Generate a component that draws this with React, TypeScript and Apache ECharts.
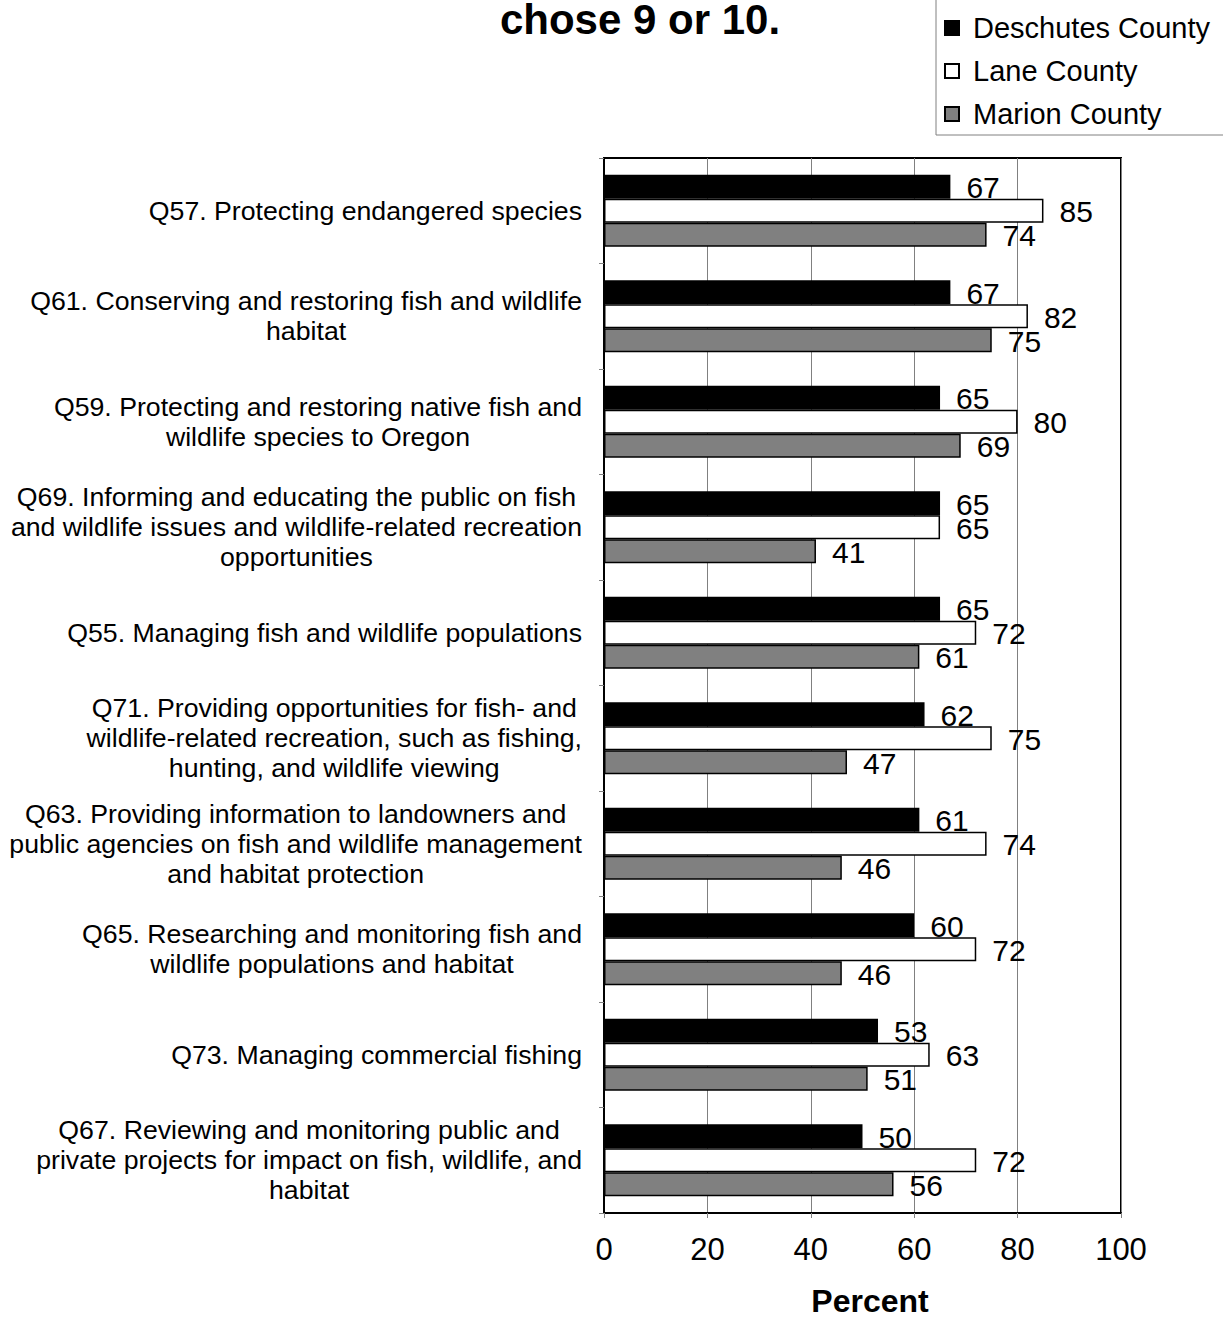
import React, { useEffect, useRef } from "react";
import * as echarts from "echarts";

const categories: string[] = [
  "Q57. Protecting endangered species",
  "Q61. Conserving and restoring fish and wildlife\nhabitat",
  "Q59. Protecting and restoring native fish and\nwildlife species to Oregon",
  "Q69. Informing and educating the public on fish\nand wildlife issues and wildlife-related recreation\nopportunities",
  "Q55. Managing fish and wildlife populations",
  "Q71. Providing opportunities for fish- and\nwildlife-related recreation, such as fishing,\nhunting, and wildlife viewing",
  "Q63. Providing information to landowners and\npublic agencies on fish and wildlife management\nand habitat protection",
  "Q65. Researching and monitoring fish and\nwildlife populations and habitat",
  "Q73. Managing commercial fishing",
  "Q67. Reviewing and monitoring public and\nprivate projects for impact on fish, wildlife, and\nhabitat",
];

const deschutes: number[] = [67, 67, 65, 65, 65, 62, 61, 60, 53, 50];
const lane: number[] = [85, 82, 80, 65, 72, 75, 74, 72, 63, 72];
const marion: number[] = [74, 75, 69, 41, 61, 47, 46, 46, 51, 56];

const seriesNames: string[] = ["Deschutes County", "Lane County", "Marion County"];
const titleText = "chose 9 or 10.";
const axisName = "Percent";

const FONT = "'Liberation Sans', Arial, Helvetica, sans-serif";

export default function App() {
  const ref = useRef<HTMLDivElement>(null);

  useEffect(() => {
    if (!ref.current) return;
    const chart = echarts.init(ref.current, undefined, { renderer: "svg" });

    const labelStyle = {
      show: true,
      position: "right" as const,
      distance: 16,
      fontSize: 30,
      color: "#000",
      fontFamily: FONT,
      offset: [0, 1],
    };

    const mkSeries = (name: string, data: number[], color: string) => ({
      name,
      type: "bar",
      data,
      barWidth: 24,
      barGap: "0%",
      itemStyle: { color, borderColor: "#000", borderWidth: 1.5 },
      label: labelStyle,
    });

    chart.setOption({
      animation: false,
      backgroundColor: "#fff",
      textStyle: { fontFamily: FONT },
      graphic: [
        {
          type: "text",
          x: 640,
          y: 19,
          style: {
            text: titleText,
            font: `bold 42px ${FONT}`,
            lineHeight: 36,
            fill: "#000",
            textAlign: "center",
            textVerticalAlign: "middle",
          },
        },
      ],
      legend: {
        orient: "vertical",
        left: 936,
        top: -20,
        padding: [33, 30, 6, 8],
        itemGap: 13,
        itemWidth: 14,
        itemHeight: 14,
        icon: "rect",
        borderColor: "#808080",
        borderWidth: 1,
        backgroundColor: "#fff",
        textStyle: {
          fontSize: 29,
          lineHeight: 30,
          color: "#000",
          fontFamily: FONT,
          padding: [0, 0, 0, 9],
        },
        data: seriesNames,
      },
      grid: {
        left: 604,
        right: 102,
        top: 158,
        bottom: 104,
        show: true,
        borderColor: "#000",
        borderWidth: 2,
        containLabel: false,
        outerBoundsMode: "none",
      },
      xAxis: {
        type: "value",
        min: 0,
        max: 100,
        interval: 20,
        name: axisName,
        nameLocation: "middle",
        nameGap: 74,
        nameTextStyle: {
          fontSize: 32,
          lineHeight: 28,
          fontWeight: "bold",
          color: "#000",
          fontFamily: FONT,
          padding: [0, 0, 0, 15],
        },
        axisLine: { show: true, lineStyle: { color: "#000", width: 2 } },
        axisTick: { show: true, length: 5, lineStyle: { color: "#808080" } },
        axisLabel: { fontSize: 31, color: "#000", margin: 21, fontFamily: FONT },
        splitLine: { show: true, lineStyle: { color: "#808080", width: 1 } },
      },
      yAxis: {
        type: "category",
        data: categories,
        inverse: true,
        axisLine: { show: true, lineStyle: { color: "#000", width: 2 } },
        axisTick: { show: true, length: 5, lineStyle: { color: "#808080" } },
        axisLabel: {
          margin: 22,
          align: "right",
          fontFamily: FONT,
          formatter: (v: string) =>
            v
              .split("\n")
              .map((l) => `{c|${l}}`)
              .join("\n"),
          rich: {
            c: {
              align: "center",
              fontSize: 26.7,
              lineHeight: 30,
              color: "#000",
              fontFamily: FONT,
            },
          },
        },
        splitLine: { show: false },
      },
      series: [
        mkSeries(seriesNames[0], deschutes, "#000000"),
        mkSeries(seriesNames[1], lane, "#ffffff"),
        mkSeries(seriesNames[2], marion, "#808080"),
      ],
    });

    return () => chart.dispose();
  }, []);

  return (
    <div
      ref={ref}
      style={{ position: "absolute", left: 0, top: 0, width: 1223, height: 1317 }}
    />
  );
}
